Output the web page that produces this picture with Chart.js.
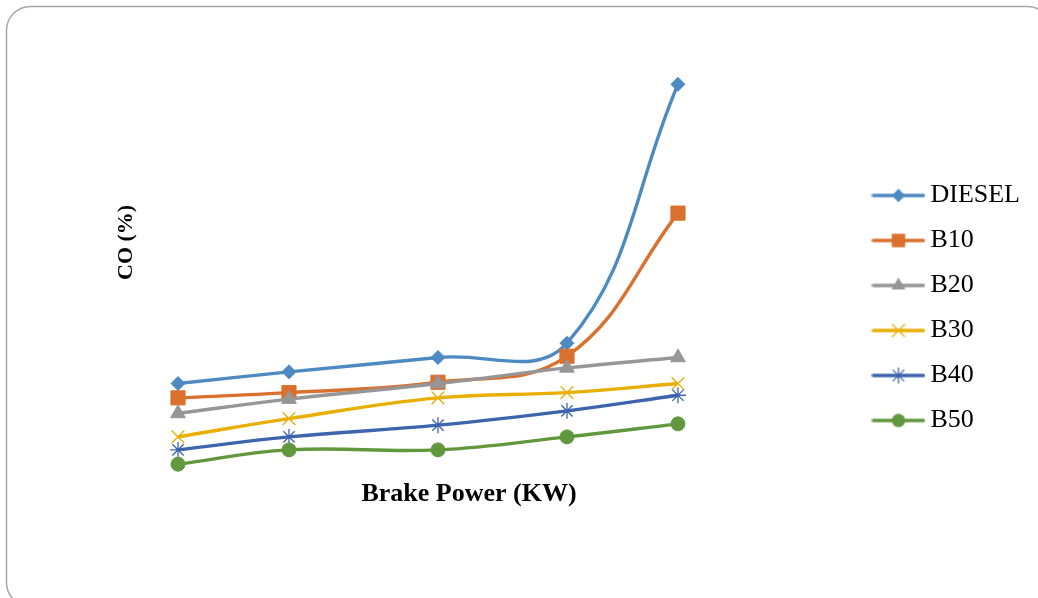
<!DOCTYPE html>
<html><head><meta charset="utf-8">
<script src="https://cdn.jsdelivr.net/npm/chart.js@4.4.1/dist/chart.umd.min.js"></script>
<style>html,body{margin:0;padding:0;background:#fff;} #wrap{width:1038px;height:598px;position:relative;}</style>
</head><body><div id="wrap"><canvas id="c" width="1038" height="598"></canvas></div>
<script>
// ---- data ----
const brakePower = [0, 1.11, 2.6, 3.89, 5.0];
const seriesNames = ['DIESEL', 'B10', 'B20', 'B30', 'B40', 'B50'];
const diesel = [0.79, 0.88, 0.99, 1.10, 3.09];
const b10    = [0.68, 0.72, 0.80, 1.00, 2.10];
const b20    = [0.56, 0.67, 0.79, 0.91, 0.99];
const b30    = [0.38, 0.52, 0.68, 0.72, 0.79];
const b40    = [0.28, 0.38, 0.47, 0.58, 0.70];
const b50    = [0.17, 0.28, 0.28, 0.38, 0.48];
const xTitle = 'Brake Power (KW)';
const yTitle = 'CO (%)';

const seriesValues = [diesel, b10, b20, b30, b40, b50];
const colors = ['#4e8ac2', '#d9702d', '#969696', '#e8ae00', '#3e64ae', '#62983d'];
const styles = [
  {pointStyle: 'rectRot', radius: 7, bw: 1},
  {pointStyle: 'rect', radius: 10, bw: 1},
  {pointStyle: 'triangle', radius: 8.5, bw: 1},
  {pointStyle: 'crossRot', radius: 9, bw: 1.3},
  {pointStyle: 'star', radius: 8, bw: 1.3},
  {pointStyle: 'circle', radius: 7, bw: 1}
];

// legend swatches: line with marker
function drawMarker(ctx, style, r, x, y, bw) {
  ctx.beginPath();
  if (style === 'rectRot') {
    ctx.moveTo(x - r, y); ctx.lineTo(x, y - r); ctx.lineTo(x + r, y); ctx.lineTo(x, y + r); ctx.closePath(); ctx.fill();
  } else if (style === 'rect') {
    const s = r * Math.SQRT1_2; ctx.rect(x - s, y - s, 2 * s, 2 * s); ctx.fill();
  } else if (style === 'triangle') {
    for (let k = 0; k < 3; k++) { const a = k * 2 * Math.PI / 3; const px = x + Math.sin(a) * r, py = y - Math.cos(a) * r; k ? ctx.lineTo(px, py) : ctx.moveTo(px, py); }
    ctx.closePath(); ctx.fill();
  } else if (style === 'circle') {
    ctx.arc(x, y, r, 0, Math.PI * 2); ctx.fill();
  } else {
    ctx.lineWidth = bw;
    const d = r * Math.SQRT1_2;
    ctx.moveTo(x - d, y - d); ctx.lineTo(x + d, y + d); ctx.moveTo(x + d, y - d); ctx.lineTo(x - d, y + d);
    if (style === 'star') { ctx.moveTo(x, y - r); ctx.lineTo(x, y + r); ctx.moveTo(x - r, y); ctx.lineTo(x + r, y); }
    ctx.stroke();
  }
}
const legendImgs = seriesNames.map((n, i) => {
  const cv = document.createElement('canvas');
  cv.width = 54; cv.height = 30;
  const c = cv.getContext('2d');
  c.strokeStyle = colors[i]; c.fillStyle = colors[i];
  c.lineWidth = 3.5; c.lineCap = 'round';
  c.beginPath(); c.moveTo(2, 15); c.lineTo(52, 15); c.stroke();
  drawMarker(c, styles[i].pointStyle, styles[i].radius * 0.95, 27, 15, styles[i].bw);
  return cv;
});

const framePlugin = {
  id: 'frame',
  beforeDraw(chart) {
    const c = chart.ctx;
    c.save();
    c.strokeStyle = '#a6a6a6'; c.lineWidth = 1.5;
    c.beginPath();
    c.roundRect(6.5, 6.5, 1045, 600, 24);
    c.stroke();
    c.restore();
  }
};

const datasets = seriesNames.map((name, i) => ({
  label: name,
  data: brakePower.map((x, k) => ({x: x, y: seriesValues[i][k]})),
  borderColor: colors[i],
  backgroundColor: colors[i],
  borderWidth: 3.4,
  tension: 0.4,
  fill: false,
  clip: false,
  order: seriesNames.length - i,
  pointStyle: styles[i].pointStyle,
  pointRadius: styles[i].radius,
  pointHoverRadius: styles[i].radius,
  pointBackgroundColor: colors[i],
  pointBorderColor: colors[i],
  pointBorderWidth: styles[i].bw
}));

const hiddenGrid = {display: false, drawTicks: false};

new Chart(document.getElementById('c'), {
  type: 'line',
  data: {datasets: datasets},
  plugins: [framePlugin],
  options: {
    responsive: false,
    animation: false,
    devicePixelRatio: 1,
    layout: {padding: {top: 18, left: 0, right: 8, bottom: 0}},
    scales: {
      x: {
        type: 'linear', position: 'bottom', min: -0.28, max: 6.1,
        ticks: {display: false}, grid: hiddenGrid, border: {display: false},
        title: {display: true, text: xTitle, color: '#000',
          font: {family: 'Liberation Serif', size: 26, weight: 'bold', lineHeight: 1.2},
          padding: {top: 12, bottom: 88}}
      },
      y: {
        type: 'linear', position: 'left', min: 0.15, max: 3.6,
        ticks: {display: false}, grid: hiddenGrid, border: {display: false},
        title: {display: true, text: yTitle, color: '#000',
          font: {family: 'Liberation Serif', size: 22, weight: 'bold', lineHeight: 1.2},
          padding: {top: 112.8, bottom: 10.8}}
      },
      y2: {
        type: 'linear', position: 'right', min: 0, max: 1, display: true,
        ticks: {display: false}, grid: hiddenGrid, border: {display: false},
        afterFit: function(s) { s.width = 72.5; }
      }
    },
    plugins: {
      tooltip: {enabled: false},
      legend: {
        position: 'right',
        align: 'center',
        labels: {
          usePointStyle: true,
          pointStyleWidth: 38,
          padding: 19,
          color: '#000',
          font: {family: 'Liberation Serif', size: 26},
          sort: (a, b) => a.datasetIndex - b.datasetIndex,
          generateLabels: function(chart) {
            return Chart.defaults.plugins.legend.labels.generateLabels(chart).map(l => Object.assign(l, {pointStyle: legendImgs[l.datasetIndex]}));
          }
        }
      }
    }
  }
});
</script>
</body></html>
